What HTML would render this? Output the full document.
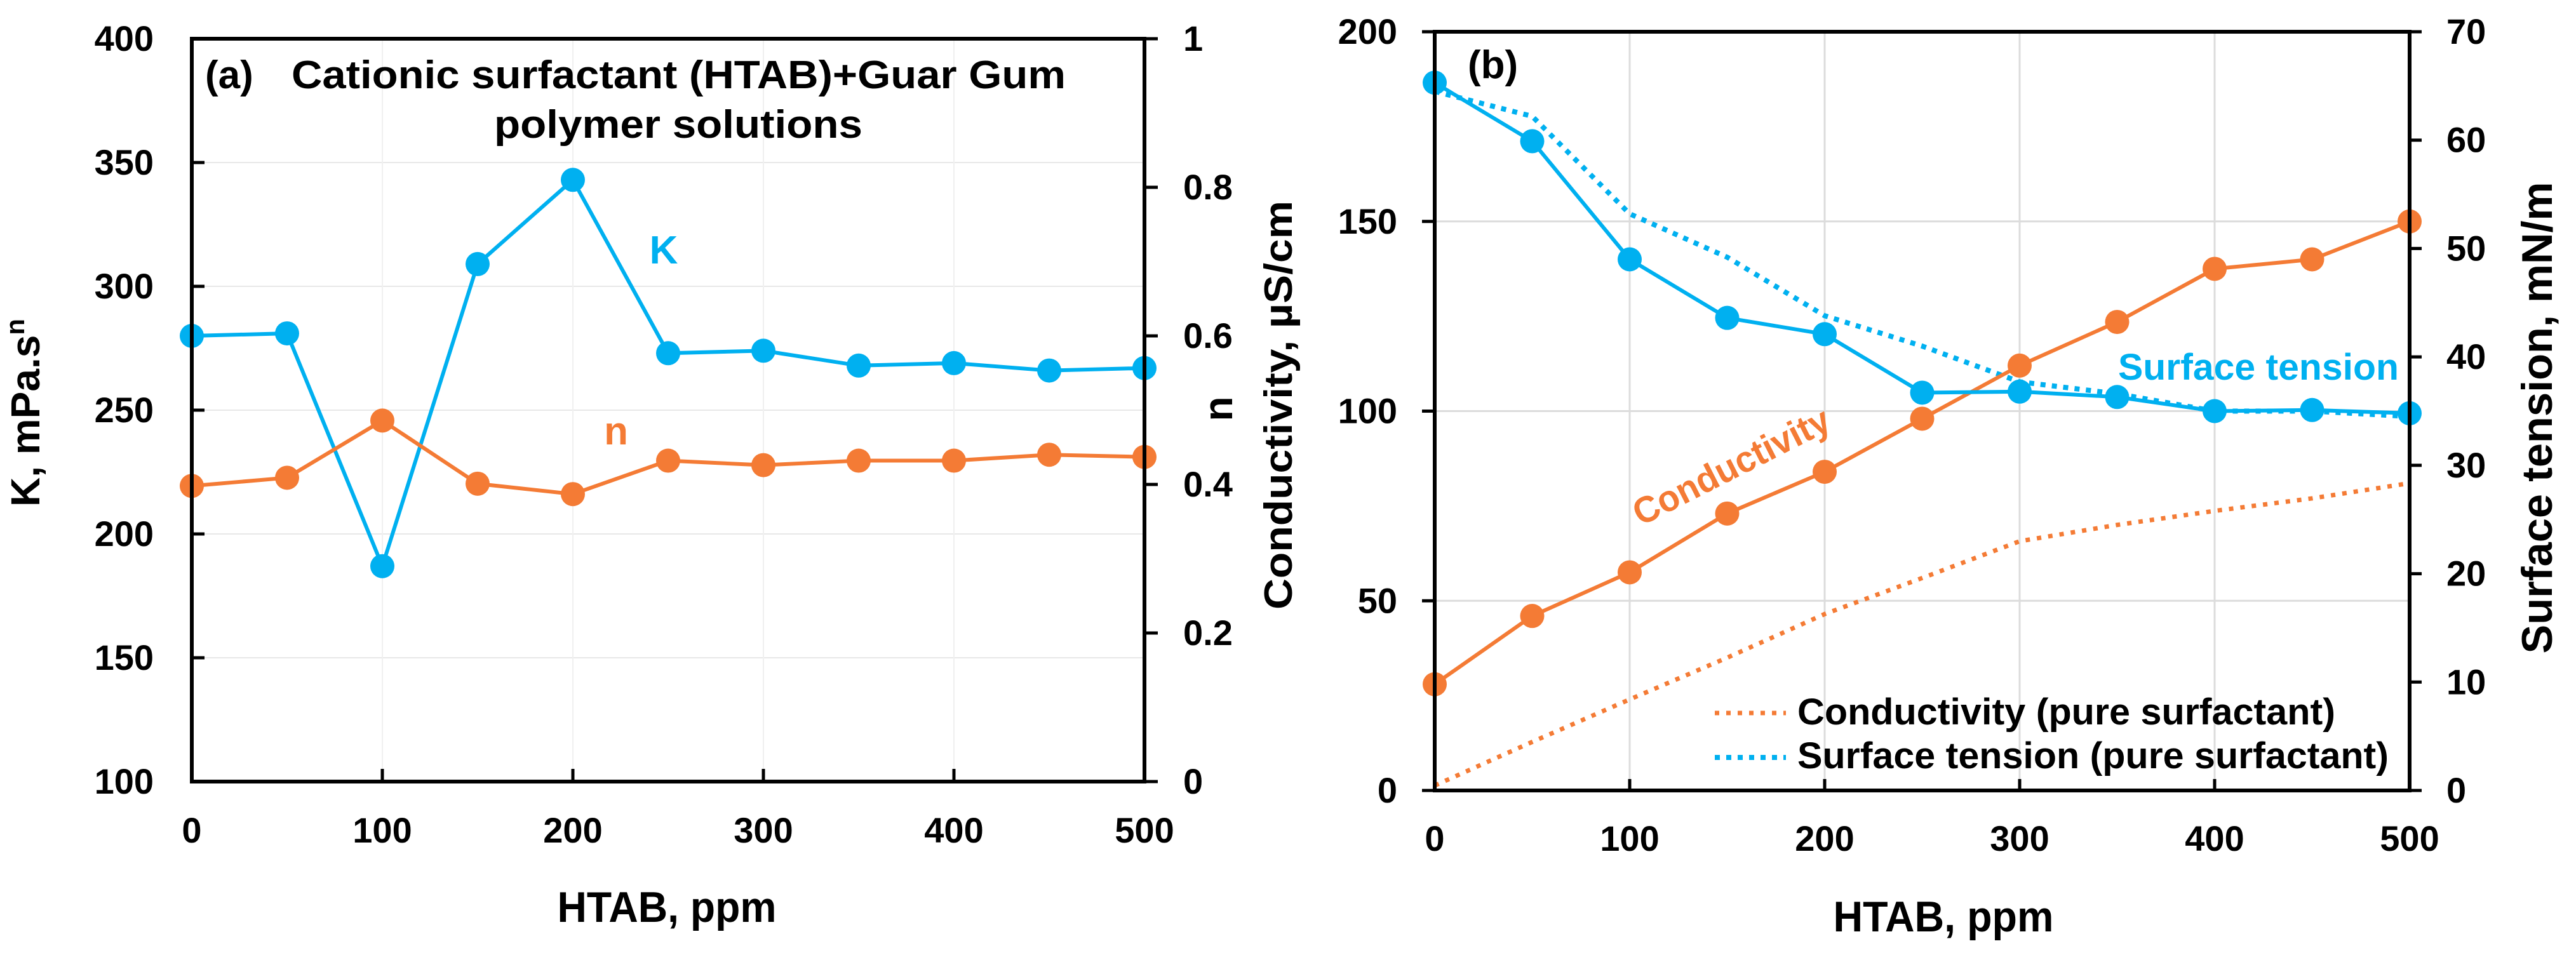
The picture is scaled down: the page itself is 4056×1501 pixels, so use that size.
<!DOCTYPE html>
<html><head><meta charset="utf-8"><style>
html,body{margin:0;padding:0;background:#fff;}
svg{display:block;}
text{font-family:"Liberation Sans Narrow","Liberation Sans",sans-serif;font-weight:bold;fill:#000;}
.w{font-family:"Liberation Sans",sans-serif;}
</style></head><body>
<svg id="chart" width="4056" height="1501" viewBox="0 0 4056 1501" xmlns="http://www.w3.org/2000/svg">
<g id="ga"></g>
<g id="gb"></g>
</svg>
<script>
const xCats=[0,50,100,150,200,250,300,350,400,450,500];
const xTicks=[0,100,200,300,400,500];
const kValues=[280,281,187,309,343,273,274,268,269,266,267];
const nValues=[0.398,0.409,0.486,0.401,0.387,0.432,0.426,0.432,0.432,0.44,0.437];
const kTicks=[100,150,200,250,300,350,400];
const nTicks=[0,0.2,0.4,0.6,0.8,1];
const nTickLabels=["0","0.2","0.4","0.6","0.8","1"];
const condValues=[28,46,57.5,73,84,98,112,123.5,137.5,140,150];
const stValues=[65.3,59.9,49,43.6,42.1,36.7,36.8,36.3,35,35.1,34.8];
const condPure=[1.3,12.8,24,35,46.5,56,65.7,70,73.7,77,81];
const stPure=[64.5,62.2,53.2,49.2,43.8,41,37.7,36.6,35,35,34.5];
const condTicks=[0,50,100,150,200];
const stTicks=[0,10,20,30,40,50,60,70];
const ORANGE="#F47B35", CYAN="#00B0F0";
const NS="http://www.w3.org/2000/svg";
function mk(parent,tag,attrs,txt){const e=document.createElementNS(NS,tag);for(const k in attrs)e.setAttribute(k,attrs[k]);if(txt!==undefined)e.textContent=txt;parent.appendChild(e);return e;}
function lin(d0,d1,r0,r1){return v=>r0+(v-d0)/(d1-d0)*(r1-r0);}

// ---------- Panel A ----------
const ga=document.getElementById('ga');
const A={l:302,r:1802,t:61,b:1231};
const ax=lin(0,500,A.l,A.r), ayK=lin(100,400,A.b,A.t), ayN=lin(0,1,A.b,A.t);
kTicks.forEach(v=>{if(v>100&&v<400){const g=mk(ga,'line',{x1:A.l,x2:A.r,y1:ayK(v),y2:ayK(v),stroke:'#e8e8e8','stroke-width':2});

}});
xTicks.forEach(v=>{if(v>0&&v<500){const g=mk(ga,'line',{x1:ax(v),x2:ax(v),y1:A.t,y2:A.b,stroke:'#f0f0f0','stroke-width':2});

}});
let e=mk(ga,'polyline',{points:xCats.map((x,i)=>ax(x)+','+ayK(kValues[i])).join(' '),fill:'none',stroke:CYAN,'stroke-width':6});


e=mk(ga,'polyline',{points:xCats.map((x,i)=>ax(x)+','+ayN(nValues[i])).join(' '),fill:'none',stroke:ORANGE,'stroke-width':6});


xCats.forEach((x,i)=>{const c=mk(ga,'circle',{cx:ax(x),cy:ayK(kValues[i]),r:19,fill:CYAN});

});
xCats.forEach((x,i)=>{const c=mk(ga,'circle',{cx:ax(x),cy:ayN(nValues[i]),r:19,fill:ORANGE});

});
e=mk(ga,'rect',{x:A.l,y:A.t,width:A.r-A.l,height:A.b-A.t,fill:'none',stroke:'#000','stroke-width':6});


kTicks.forEach(v=>{mk(ga,'line',{x1:A.l,x2:A.l+20,y1:ayK(v),y2:ayK(v),stroke:'#000','stroke-width':5});
const t=mk(ga,'text',{x:242,y:ayK(v)+19,'text-anchor':'end','font-size':56},String(v));

});
nTicks.forEach((v,i)=>{mk(ga,'line',{x1:A.r,x2:A.r+21,y1:ayN(v),y2:ayN(v),stroke:'#000','stroke-width':5});
const t=mk(ga,'text',{x:1863,y:ayN(v)+19,'font-size':56},nTickLabels[i]);

});
xTicks.forEach(v=>{mk(ga,'line',{x1:ax(v),x2:ax(v),y1:A.b,y2:A.b-20,stroke:'#000','stroke-width':5});
const t=mk(ga,'text',{x:ax(v),y:1327,'text-anchor':'middle','font-size':56},String(v));

});
e=mk(ga,'text',{x:1050,y:1452,'text-anchor':'middle','font-size':68,textLength:345,lengthAdjust:'spacingAndGlyphs'},'HTAB, ppm');


e=mk(ga,'text',{x:0,y:0,'text-anchor':'middle','font-size':64,class:'w',transform:'translate(62,650) rotate(-90)'});


e.appendChild(document.createTextNode('K, mPa.s'));
mk(e,'tspan',{dy:-24,'font-size':42},'n');
e=mk(ga,'text',{x:0,y:0,'text-anchor':'middle','font-size':64,class:'w',transform:'translate(1940,644) rotate(-90)'},'n');


e=mk(ga,'text',{x:323,y:139,'font-size':62},'(a)');


e=mk(ga,'text',{x:459,y:139,'font-size':62,textLength:1219,lengthAdjust:'spacingAndGlyphs'},'Cationic surfactant (HTAB)+Guar Gum');


e=mk(ga,'text',{x:1068,y:217,'text-anchor':'middle','font-size':62,textLength:580,lengthAdjust:'spacingAndGlyphs'},'polymer solutions');


e=mk(ga,'text',{x:1045,y:415,'text-anchor':'middle','font-size':62,class:'w',style:'fill:'+CYAN},'K');


e=mk(ga,'text',{x:970,y:700,'text-anchor':'middle','font-size':62,class:'w',style:'fill:'+ORANGE},'n');



// ---------- Panel B ----------
const gb=document.getElementById('gb');
const B={l:2259,r:3794,t:50,b:1245};
const bx=lin(0,500,B.l,B.r), byC=lin(0,200,B.b,B.t), byS=lin(0,70,B.b,B.t);
condTicks.forEach(v=>{if(v>0&&v<200){const g=mk(gb,'line',{x1:B.l,x2:B.r,y1:byC(v),y2:byC(v),stroke:'#dcdcdc','stroke-width':3});

}});
xTicks.forEach(v=>{if(v>0&&v<500){const g=mk(gb,'line',{x1:bx(v),x2:bx(v),y1:B.t,y2:B.b,stroke:'#dcdcdc','stroke-width':3});

}});
e=mk(gb,'polyline',{points:xCats.map((x,i)=>bx(x)+','+byC(condPure[i])).join(' '),fill:'none',stroke:ORANGE,'stroke-width':7,'stroke-dasharray':'7 11'});


e=mk(gb,'polyline',{points:xCats.map((x,i)=>bx(x)+','+byS(stPure[i])).join(' '),fill:'none',stroke:CYAN,'stroke-width':8,'stroke-dasharray':'8 10'});


e=mk(gb,'polyline',{points:xCats.map((x,i)=>bx(x)+','+byC(condValues[i])).join(' '),fill:'none',stroke:ORANGE,'stroke-width':6});


e=mk(gb,'polyline',{points:xCats.map((x,i)=>bx(x)+','+byS(stValues[i])).join(' '),fill:'none',stroke:CYAN,'stroke-width':6});


xCats.forEach((x,i)=>{const c=mk(gb,'circle',{cx:bx(x),cy:byC(condValues[i]),r:19,fill:ORANGE});

});
xCats.forEach((x,i)=>{const c=mk(gb,'circle',{cx:bx(x),cy:byS(stValues[i]),r:19,fill:CYAN});

});
e=mk(gb,'rect',{x:B.l,y:B.t,width:B.r-B.l,height:B.b-B.t,fill:'none',stroke:'#000','stroke-width':6});


condTicks.forEach(v=>{mk(gb,'line',{x1:B.l,x2:B.l-20,y1:byC(v),y2:byC(v),stroke:'#000','stroke-width':5});
const t=mk(gb,'text',{x:2200,y:byC(v)+19,'text-anchor':'end','font-size':56},String(v));

});
stTicks.forEach(v=>{mk(gb,'line',{x1:B.r,x2:B.r+19,y1:byS(v),y2:byS(v),stroke:'#000','stroke-width':5});
const t=mk(gb,'text',{x:3852,y:byS(v)+19,'font-size':56},String(v));

});
xTicks.forEach(v=>{mk(gb,'line',{x1:bx(v),x2:bx(v),y1:B.b,y2:B.b-18,stroke:'#000','stroke-width':5});
const t=mk(gb,'text',{x:bx(v),y:1340,'text-anchor':'middle','font-size':56},String(v));

});
e=mk(gb,'text',{x:3060,y:1467,'text-anchor':'middle','font-size':68,textLength:347,lengthAdjust:'spacingAndGlyphs'},'HTAB, ppm');


e=mk(gb,'text',{x:0,y:0,'text-anchor':'middle','font-size':62,class:'w',textLength:644,lengthAdjust:'spacingAndGlyphs',transform:'translate(2034,638) rotate(-90)'},'Conductivity, µS/cm');


e=mk(gb,'text',{x:0,y:0,'text-anchor':'middle','font-size':68,class:'w',textLength:743,lengthAdjust:'spacingAndGlyphs',transform:'translate(4018,658) rotate(-90)'},'Surface tension, mN/m');


e=mk(gb,'text',{x:2311,y:123,'font-size':62},'(b)');


e=mk(gb,'text',{x:3335,y:598,'font-size':58,class:'w',textLength:442,lengthAdjust:'spacingAndGlyphs',style:'fill:'+CYAN},'Surface tension');


e=mk(gb,'text',{x:0,y:0,'text-anchor':'middle','font-size':58,class:'w',textLength:340,lengthAdjust:'spacingAndGlyphs',style:'fill:'+ORANGE,transform:'translate(2735,752) rotate(-27)'},'Conductivity');


const lg=mk(gb,'g',{});


e=mk(lg,'line',{x1:2700,x2:2812,y1:1123,y2:1123,stroke:ORANGE,'stroke-width':7,'stroke-dasharray':'7 11'});


e=mk(lg,'line',{x1:2700,x2:2812,y1:1193,y2:1193,stroke:CYAN,'stroke-width':8,'stroke-dasharray':'8 10'});


e=mk(lg,'text',{x:2830,y:1141,'font-size':58,textLength:847,lengthAdjust:'spacingAndGlyphs'},'Conductivity (pure surfactant)');


e=mk(lg,'text',{x:2830,y:1210,'font-size':58,textLength:931,lengthAdjust:'spacingAndGlyphs'},'Surface tension (pure surfactant)');


</script>
</body></html>
